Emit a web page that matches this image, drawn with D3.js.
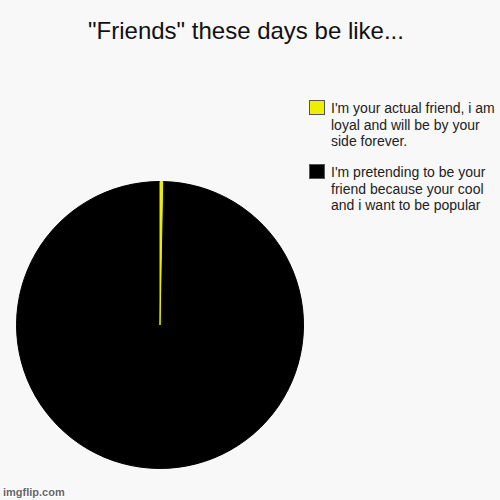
<!DOCTYPE html>
<html><head><meta charset="utf-8">
<script src="https://cdn.jsdelivr.net/npm/d3@7"></script>
<style>html,body{margin:0;padding:0;background:#f8f8f8;}svg{display:block;}</style>
</head><body>
<script>
const title = '"Friends" these days be like...';
const categories = [
  "I'm your actual friend, i am loyal and will be by your side forever.",
  "I'm pretending to be your friend because your cool and i want to be popular"
];
const legendLines = [
  ["I'm your actual friend, i am", "loyal and will be by your", "side forever."],
  ["I'm pretending to be your", "friend because your cool", "and i want to be popular"]
];
const values = [0.3, 99.7];
const colors = ["#eeee00", "#000000"];

const W = 500, H = 500;
const svg = d3.select("body").append("svg").attr("width", W).attr("height", H);
svg.append("rect").attr("width", W).attr("height", H).attr("fill", "#f8f8f8");

svg.append("text").attr("x", 246).attr("y", 39)
  .attr("text-anchor", "middle")
  .attr("font-family", "Liberation Sans, Arial, sans-serif")
  .attr("font-size", 24).attr("fill", "#111").text(title);

const cx = 160, cy = 325, r = 143.5;
const pie = d3.pie().sort(null).value(d => d);
const arc = d3.arc().innerRadius(0).outerRadius(r);
const g = svg.append("g").attr("transform", `translate(${cx},${cy})`);
const arcs = pie(values);
g.selectAll("path").data(arcs.slice().reverse()).join("path")
  .attr("d", arc)
  .attr("fill", d => colors[d.index])
  .attr("stroke", d => colors[d.index])
  .attr("stroke-width", 1);

const leg = svg.append("g");
const groupY = [100, 164];
legendLines.forEach((lines, i) => {
  leg.append("rect").attr("x", 309.5).attr("y", groupY[i] + 0.5)
    .attr("width", 15).attr("height", 14)
    .attr("fill", colors[i]).attr("stroke", "#555").attr("stroke-width", 1);
  lines.forEach((ln, j) => {
    leg.append("text").attr("x", 331).attr("y", groupY[i] + 13 + j * 16.6)
      .attr("font-family", "Liberation Sans, Arial, sans-serif")
      .attr("font-size", 14).attr("fill", "#222").text(ln);
  });
});

svg.append("text").attr("x", 3).attr("y", 496)
  .attr("font-family", "Liberation Sans, Arial, sans-serif")
  .attr("font-size", 11).attr("font-weight", "bold")
  .attr("fill", "#666").attr("stroke", "#fff").attr("stroke-width", 2)
  .attr("paint-order", "stroke").text("imgflip.com");
</script>
</body></html>
